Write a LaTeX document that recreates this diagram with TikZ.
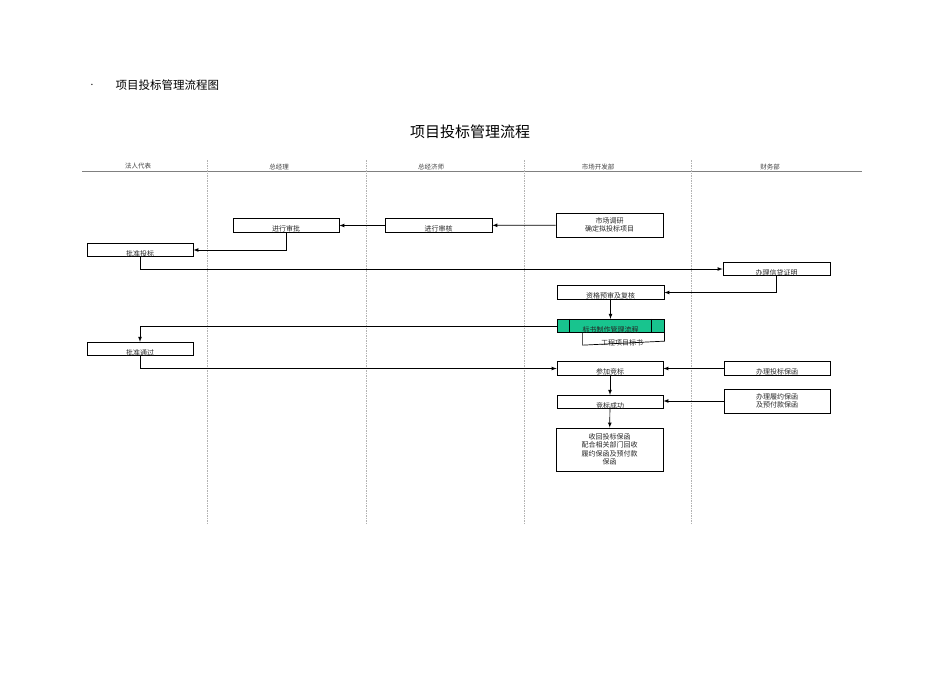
\documentclass[tikz,border=0pt]{standalone}
\usepackage{fontspec}
\setmainfont{Noto Sans CJK SC}
\usepackage{tikz}
\usetikzlibrary{arrows,positioning}
\definecolor{procgreen}{RGB}{24,196,142}
\tikzstyle{step box} = [rectangle, draw=black, line width=.8pt, inner sep=0pt, text centered, font=\fontsize{7}{8.5}\selectfont, text=black!85]
\tikzstyle{one} = [step box, minimum width=106pt, minimum height=13.5pt, text height=12pt, text depth=0pt]
\tikzstyle{two} = [step box, minimum width=107pt, minimum height=24pt, align=center]
\tikzstyle{lane} = [font=\fontsize{6.5}{7}\selectfont, text=black!75]
\tikzstyle{link} = [line width=.7pt, -latex]

\begin{document}
\begin{tikzpicture}[x=1pt,y=-1pt]
\useasboundingbox (0,0) rectangle (950,672);

\node (dot) at (92,85) {.};
\node [anchor=west, font=\fontsize{11.5}{13}\selectfont] (head) at (112,85) {项目投标管理流程图};
\node [font=\fontsize{15}{17}\selectfont] (title) at (470,132) {项目投标管理流程};
%
\node (l1) [lane] at (138,166) {法人代表};
\node (l2) [lane] at (279,167) {总经理};
\node (l3) [lane] at (431,167) {总经济师};
\node (l4) [lane] at (598,167) {市场开发部};
\node (l5) [lane] at (770,167) {财务部};
\draw [gray, line width=1pt] (82,171) -- (862,171);
\foreach \x in {207,366,524,691}
	\draw [gray!60, dashed, dash pattern=on 1.5pt off 1pt] (\x,160) -- (\x,524);
%
\node (shenpi) [one] at (286,225.5) {进行审批};
\node (shenhe) [one, minimum width=107pt] at (438.5,225.5) {进行审核};
\node (diaoyan) [two] at (609.5,225) {市场调研\\确定拟投标项目};
\node (pizhun) [one] at (140,250) {批准投标};
\node (xindai) [one, minimum width=107pt] at (776.5,269) {办理信贷证明};
\node (zige) [one, minimum width=107pt] at (610.5,292.5) {资格预审及复核};
\node (biaoshu) [one, minimum width=107pt, fill=procgreen] at (610.5,326) {标书制作管理流程};
	\draw [line width=.8pt] ([xshift=13pt]biaoshu.north west) -- ([xshift=13pt]biaoshu.south west);
	\draw [line width=.8pt] ([xshift=-13pt]biaoshu.north east) -- ([xshift=-13pt]biaoshu.south east);
	\node (doc) [font=\fontsize{7}{8.5}\selectfont, text=black!85] at (622,342.5) {工程项目标书};
	\draw [line width=.7pt] ([xshift=26pt]biaoshu.south west) -- ++(0,12) -- ([yshift=-8pt]biaoshu.south east) -- (biaoshu.south east);
\node (tongguo) [one] at (140,349) {批准通过};
\node (canjia) [one] at (610,368.5) {参加竞标};
\node (baohan) [one] at (777,368.5) {办理投标保函};
\node (chenggong) [one] at (610,402) {竞标成功};
\node (lvyue) [two, minimum width=106pt] at (777,401) {办理履约保函\\及预付款保函};
\node (shouhui) [step box, minimum width=107pt, minimum height=43pt, align=center] at (609.5,449.5) {收回投标保函\\配合相关部门回收\\履约保函及预付款\\保函};
%
\draw [link] (diaoyan) -- (shenhe);
\draw [link] (shenhe) -- (shenpi);
\draw [link] (shenpi.south) |- (pizhun.east);
\draw [link] (pizhun.south) |- (xindai.west);
\draw [link] (xindai.south) |- (zige.east);
\draw [link] (zige) -- (biaoshu);
\draw [link] (biaoshu.west) -| (tongguo.north);
\draw [link] (tongguo.south) |- (canjia.west);
\draw [link] (baohan) -- (canjia);
\draw [link] (canjia) -- (chenggong);
\draw [link] (lvyue.west) -- (chenggong.east |- lvyue.west);
\draw [link] (chenggong) -- (shouhui);
\end{tikzpicture}
\end{document}
